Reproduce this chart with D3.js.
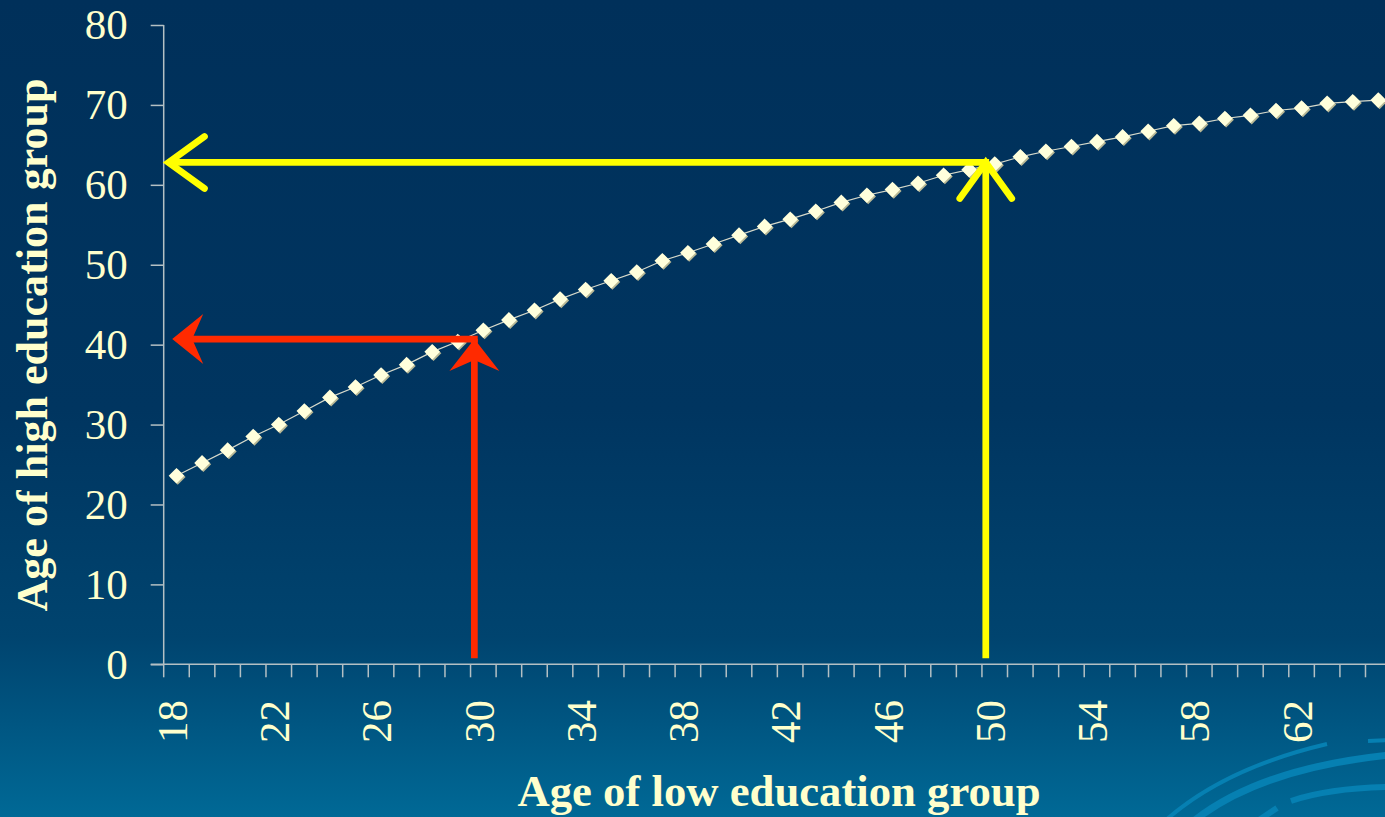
<!DOCTYPE html>
<html>
<head>
<meta charset="utf-8">
<script src="https://cdn.jsdelivr.net/npm/d3@7"></script>
<style>
  html, body { margin: 0; padding: 0; background: #00305a; overflow: hidden; }
  svg { display: block; }
</style>
</head>
<body>
<svg id="chart" width="1385" height="817"></svg>
<script>
// Ages of the low education group (category axis)
const lowAges = d3.range(18, 66);
// Equivalent age of the high education group for each low-education age
const highAges = [
  23.6, 25.2, 26.8, 28.5, 30.0, 31.7, 33.4, 34.7, 36.2, 37.5,
  39.1, 40.4, 41.8, 43.1, 44.3, 45.7, 46.9, 48.0, 49.1, 50.5,
  51.5, 52.6, 53.7, 54.8, 55.7, 56.7, 57.8, 58.7, 59.4, 60.2,
  61.2, 61.9, 62.6, 63.5, 64.2, 64.8, 65.4, 66.0, 66.7, 67.4,
  67.7, 68.3, 68.7, 69.3, 69.6, 70.2, 70.4, 70.6
];
// Tick labels
const xTickLabels = [18, 22, 26, 30, 34, 38, 42, 46, 50, 54, 58, 62];
const yTickValues = [0, 10, 20, 30, 40, 50, 60, 70, 80];
// Reading guides: low-education age -> high-education age
const guideLow = [29.65, 49.65];
const guideHigh = [40.7, 62.8];
const guideColors = ["#ff2a00", "#ffff00"];
const guideStyles = ["filled", "open"];

const svg = d3.select("#chart");
const W = 1385, H = 817;
const plotLeft = 163.7, bandW = 25.57;
const plotTop = 25, plotBottom = 664.3;

// background gradient
const defs = svg.append("defs");
const grad = defs.append("linearGradient").attr("id", "bg")
  .attr("x1", 0).attr("y1", 0).attr("x2", 0).attr("y2", 1);
[["0%", "#00305a"], ["50%", "#003560"], ["78%", "#00446f"], ["100%", "#006996"]]
  .forEach(([o, c]) => grad.append("stop").attr("offset", o).attr("stop-color", c));
svg.append("rect").attr("width", W).attr("height", H).attr("fill", "url(#bg)");

// decorative swirl in the lower right corner
const swirl = svg.append("g").attr("fill", "none").attr("stroke", "#0680b2");
[
  ["M1166,820 Q1225,768 1327,744", 4],
  ["M1195,820 Q1262,768 1390,755", 7],
  ["M1368,741 L1390,740", 4],
  ["M1291,801 Q1330,788 1390,787", 6],
  ["M1259,820 L1277,808", 6]
].forEach(([d, w]) => swirl.append("path").attr("d", d).attr("stroke-width", w));

const x = d3.scaleBand().domain(lowAges).range([plotLeft, plotLeft + bandW * lowAges.length]).padding(0);
const xc = d3.scaleLinear().domain([17.5, 65.5]).range([plotLeft, plotLeft + bandW * lowAges.length]);
const y = d3.scaleLinear().domain([0, 80]).range([plotBottom, plotTop]);

const axisColor = "#b4c0c4";
const textColor = "#ffffcc";
const serif = "'Liberation Serif', 'Times New Roman', serif";

// y axis
const yAxis = svg.append("g").attr("transform", `translate(${plotLeft},0)`)
  .call(d3.axisLeft(y).tickValues(yTickValues).tickSize(13).tickPadding(23).tickFormat(d3.format("d")));
yAxis.select(".domain").attr("stroke", axisColor).attr("stroke-width", 1.5).attr("d", `M0,${plotTop}V${plotBottom}`);
yAxis.selectAll(".tick line").attr("stroke", axisColor).attr("stroke-width", 1.5);
yAxis.selectAll(".tick text").attr("fill", textColor).attr("font-family", serif).attr("font-size", 43);

// x axis: ticks sit between categories
const xg = svg.append("g");
xg.append("line").attr("x1", plotLeft - 13).attr("x2", W + 10)
  .attr("y1", plotBottom).attr("y2", plotBottom)
  .attr("stroke", axisColor).attr("stroke-width", 1.5);
const boundaries = lowAges.map(a => x(a)).concat([x(lowAges[lowAges.length - 1]) + bandW]);
xg.selectAll("line.tk").data(boundaries).join("line").attr("class", "tk")
  .attr("x1", d => d).attr("x2", d => d)
  .attr("y1", plotBottom).attr("y2", plotBottom + 13)
  .attr("stroke", axisColor).attr("stroke-width", 1.5);
xg.selectAll("text").data(xTickLabels).join("text")
  .attr("transform", d => `translate(${x(d) + bandW / 2 - 4},700) rotate(-90)`)
  .attr("text-anchor", "end").attr("dy", "0.33em")
  .attr("fill", textColor).attr("font-family", serif).attr("font-size", 43)
  .text(d => d);

// axis titles
svg.append("text").attr("x", 779).attr("y", 806).attr("text-anchor", "middle")
  .attr("font-family", serif).attr("font-weight", "bold").attr("font-size", 45)
  .attr("fill", textColor).attr("textLength", 523).attr("lengthAdjust", "spacingAndGlyphs")
  .text("Age of low education group");
svg.append("text").attr("transform", "translate(46.7,345) rotate(-90)").attr("text-anchor", "middle")
  .attr("font-family", serif).attr("font-weight", "bold").attr("font-size", 45)
  .attr("fill", textColor).attr("textLength", 533).attr("lengthAdjust", "spacingAndGlyphs")
  .text("Age of high education group");

// series line and diamond markers
const pts = lowAges.map((a, i) => [x(a) + bandW / 2, y(highAges[i])]);
svg.append("path").attr("d", d3.line()(pts)).attr("fill", "none")
  .attr("stroke", "#d6dacb").attr("stroke-width", 1.2);
const diamond = r => `M0,${-r}L${r},0L0,${r}L${-r},0Z`;
const mk = svg.append("g");
mk.selectAll("path.sh").data(pts).join("path").attr("class", "sh")
  .attr("transform", d => `translate(${d[0] + 1.3},${d[1] + 1.3})`)
  .attr("d", diamond(7.8)).attr("fill", "#b9b996");
mk.selectAll("path.dm").data(pts).join("path").attr("class", "dm")
  .attr("transform", d => `translate(${d[0]},${d[1]})`)
  .attr("d", diamond(7.8)).attr("fill", "#ffffdc");

// reading guides: up from the low-education age, then left to the high-education age
const shaftW = 6.7;
guideLow.forEach((lo, i) => {
  const gx = xc(lo), gy = y(guideHigh[i]);
  const col = guideColors[i];
  const g = svg.append("g");
  const tipX = plotLeft + (i === 0 ? 8.5 : 4.8);
  if (guideStyles[i] === "filled") {
    // shafts
    g.append("path").attr("d", `M${gx},${plotBottom - 6}V${gy}`).attr("stroke", col)
      .attr("stroke-width", shaftW).attr("fill", "none");
    g.append("path").attr("d", `M${gx + shaftW / 2},${gy}H${tipX + 18}`).attr("stroke", col)
      .attr("stroke-width", shaftW).attr("fill", "none");
    // filled heads
    g.append("path").attr("fill", col)
      .attr("d", `M${gx},${gy}L${gx + 25},${gy + 32}L${gx},${gy + 21}L${gx - 25},${gy + 32}Z`);
    g.append("path").attr("fill", col)
      .attr("d", `M${tipX},${gy}L${tipX + 31},${gy - 25}L${tipX + 20},${gy}L${tipX + 31},${gy + 25}Z`);
  } else {
    g.append("path").attr("d", `M${gx},${plotBottom - 6}V${gy}`).attr("stroke", col)
      .attr("stroke-width", shaftW).attr("fill", "none");
    g.append("path").attr("d", `M${gx + shaftW / 2},${gy}H${tipX}`).attr("stroke", col)
      .attr("stroke-width", shaftW).attr("fill", "none");
    // open chevron heads
    g.append("path").attr("d", `M${gx - 26},${gy + 36}L${gx},${gy}L${gx + 26},${gy + 36}`)
      .attr("stroke", col).attr("stroke-width", shaftW).attr("fill", "none")
      .attr("stroke-linecap", "round").attr("stroke-linejoin", "miter");
    g.append("path").attr("d", `M${tipX + 36},${gy - 26}L${tipX},${gy}L${tipX + 36},${gy + 26}`)
      .attr("stroke", col).attr("stroke-width", shaftW).attr("fill", "none")
      .attr("stroke-linecap", "round").attr("stroke-linejoin", "miter");
  }
});
</script>
</body>
</html>
